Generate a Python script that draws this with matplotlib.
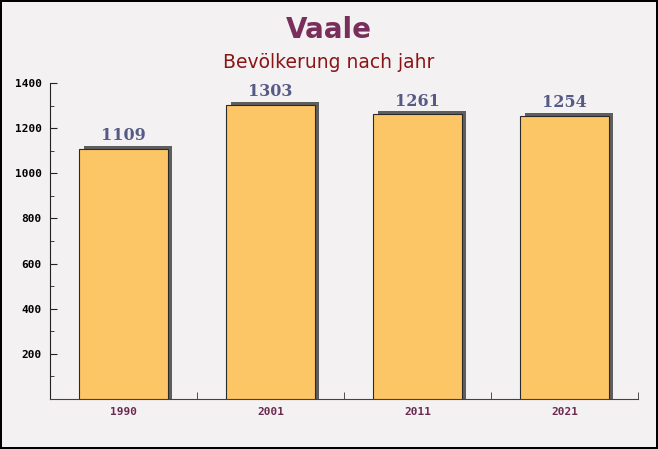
import matplotlib.pyplot as plt
from matplotlib.ticker import MultipleLocator

jahre = ["1990", "2001", "2011", "2021"]
einwohner = [1109, 1303, 1261, 1254]

fig = plt.figure(figsize=(6.58, 4.49), dpi=100)
fig.patch.set_facecolor("#f4f1f3")
fig.patch.set_edgecolor("black")
fig.patch.set_linewidth(1.5)

ax = fig.add_axes([50 / 658, 50 / 449, 588 / 658, 316 / 449])
ax.set_facecolor("none")

x = range(len(jahre))
breite = 0.6
# schatten etwas nach rechts oben versetzt
ax.bar([i + 0.028 for i in x], [v + 14 for v in einwohner], width=breite,
       color="#5e5e5e", zorder=2)
ax.bar(x, einwohner, width=breite, color="#fcc566",
       edgecolor="#2a2a2a", linewidth=0.8, zorder=3)

for i, v in enumerate(einwohner):
    ax.text(i, v + 20, str(v), ha="center", va="bottom", fontsize=11.5,
            fontweight="bold", family="DejaVu Serif", color="#565b86", zorder=4)

ax.set_xlim(-0.5, len(jahre) - 0.5)
ax.set_ylim(0, 1400)
ax.set_xticks(list(x))
ax.set_xticklabels(jahre)
ax.set_xticks([i + 0.5 for i in x], minor=True)
ax.yaxis.set_major_locator(MultipleLocator(200))
ax.yaxis.set_minor_locator(MultipleLocator(100))
ax.set_yticks([200, 400, 600, 800, 1000, 1200, 1400])

ax.tick_params(axis="x", which="major", length=0, pad=6, labelsize=8,
               labelcolor="#6b2a50")
ax.tick_params(axis="x", which="minor", direction="in", length=5, color="#333333")
ax.tick_params(axis="y", which="both", direction="in", color="#222222")
ax.tick_params(axis="y", which="major", length=5, pad=6, labelsize=8)
ax.tick_params(axis="y", which="minor", length=3)
for lab in ax.get_xticklabels() + ax.get_yticklabels():
    lab.set_family("DejaVu Sans Mono")
    lab.set_fontweight("bold")

for s in ["top", "right"]:
    ax.spines[s].set_visible(False)
ax.spines["left"].set_color("#222222")
ax.spines["bottom"].set_color("#6b2a50")

fig.text(0.5, 0.933, "Vaale", ha="center", va="center", fontsize=20,
         fontweight="bold", color="#7a2e5b")
fig.text(0.5, 0.86, "Bevölkerung nach jahr", ha="center", va="center",
         fontsize=13.5, color="#8b1414")

fig.savefig("out.png", dpi=100, facecolor=fig.get_facecolor(),
            edgecolor=fig.get_edgecolor())
